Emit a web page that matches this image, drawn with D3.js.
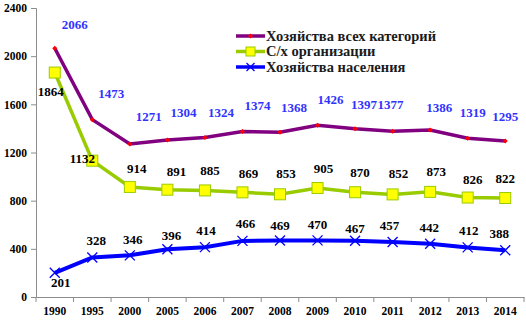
<!DOCTYPE html>
<html>
<head>
<meta charset="utf-8">
<script src="https://cdn.jsdelivr.net/npm/d3@7"></script>
<style>
  body { margin: 0; background: #fff; }
</style>
</head>
<body>
<div id="my_dataviz"></div>
<script>
// data
var years = ["1990","1995","2000","2005","2006","2007","2008","2009","2010","2011","2012","2013","2014"];
var allFarms = [2066,1473,1271,1304,1324,1374,1368,1426,1397,1377,1386,1319,1295];
var agroOrgs = [1864,1132,914,891,885,869,853,905,870,852,873,826,822];
var households = [201,328,346,396,414,466,469,470,467,457,442,412,388];
var yTicks = [0,400,800,1200,1600,2000,2400];
var seriesNames = ["Хозяйства всех категорий", "С/х организации", "Хозяйства населения"];

// label nudges (px)
var allDx = [20,19,19,16,16,15,14,13,9,-2,9,5,0];
var allDy = [-19,-22,-23,-23,-21,-22,-20,-21,-20,-22,-18,-21,-20];
var orgDx = [-4,-10,7,9,5,6,6,6,5,6,6,5,0];
var orgDy = [23,2,-14,-14,-15,-14,-16,-15,-15,-16,-16,-14,-15];
var hhDx = [6,4,3,4,1,3,0,0,0,-3,-1,1,-6];
var hhDy = [14,-13,-11,-9,-12,-13,-11,-11,-8,-12,-12,-12,-12];

var FONT = "'Liberation Serif', 'DejaVu Serif', 'Times New Roman', serif";

var width = 526, height = 336;
var svg = d3.select("#my_dataviz")
  .append("svg")
    .attr("width", width)
    .attr("height", height)
    .attr("font-family", FONT)
    .attr("font-weight", "bold");

var x = d3.scaleBand()
  .domain(years)
  .range([36, 524])
  .padding(0);
var cx = function(d, i) { return x(years[i]) + x.bandwidth() / 2; };

var y = d3.scaleLinear()
  .domain([0, 2400])
  .range([297, 8]);

// Y axis
var yAxis = svg.append("g")
  .attr("transform", "translate(36,0)")
  .call(d3.axisLeft(y).tickValues(yTicks).tickSize(5).tickPadding(4).tickFormat(d3.format("d")));
yAxis.attr("font-family", FONT);
yAxis.select(".domain").attr("stroke", "#8c8c8c");
yAxis.selectAll(".tick line").attr("stroke", "#8c8c8c");
yAxis.selectAll("text").style("font-size", "11.5px").style("font-family", FONT).attr("fill", "#000");

// X axis
var xAxis = svg.append("g")
  .attr("transform", "translate(0,297)")
  .call(d3.axisBottom(x).tickSize(0).tickPadding(10).tickSizeOuter(0));
xAxis.attr("font-family", FONT);
xAxis.select(".domain").attr("stroke", "#8c8c8c");
xAxis.selectAll("text").style("font-size", "11.5px").style("font-family", FONT).attr("fill", "#000");
xAxis.selectAll("line.sep")
  .data(years.concat(["end"]))
  .enter().append("line")
    .attr("class", "sep")
    .attr("x1", function(d, i) { return i < years.length ? x(d) : x.range()[1]; })
    .attr("x2", function(d, i) { return i < years.length ? x(d) : x.range()[1]; })
    .attr("y1", 0).attr("y2", 5)
    .attr("stroke", "#8c8c8c");

var line = d3.line()
  .x(cx)
  .y(function(d) { return y(d); });

// Хозяйства населения
svg.append("path")
  .datum(households)
  .attr("d", line)
  .attr("fill", "none")
  .attr("stroke", "#0000ff")
  .attr("stroke-width", 4);
svg.selectAll("hhMark")
  .data(households)
  .enter().append("path")
    .attr("transform", function(d, i) { return "translate(" + cx(d, i) + "," + y(d) + ")"; })
    .attr("d", "M-5,-5L5,5M-5,5L5,-5")
    .attr("stroke", "#0000ff")
    .attr("stroke-width", 1.3);

// С/х организации
svg.append("path")
  .datum(agroOrgs)
  .attr("d", line)
  .attr("fill", "none")
  .attr("stroke", "#99cc00")
  .attr("stroke-width", 3.5);
svg.selectAll("orgMark")
  .data(agroOrgs)
  .enter().append("rect")
    .attr("x", function(d, i) { return cx(d, i) - 5.5; })
    .attr("y", function(d) { return y(d) - 5.5; })
    .attr("width", 11)
    .attr("height", 11)
    .attr("fill", "#ffff00")
    .attr("stroke", "#99cc00")
    .attr("stroke-width", 1);

// Хозяйства всех категорий
svg.append("path")
  .datum(allFarms)
  .attr("d", line)
  .attr("fill", "none")
  .attr("stroke", "#800080")
  .attr("stroke-width", 3.5);
svg.selectAll("allMark")
  .data(allFarms)
  .enter().append("path")
    .attr("transform", function(d, i) { return "translate(" + cx(d, i) + "," + y(d) + ")"; })
    .attr("d", "M0,-2.5L2.5,0L0,2.5L-2.5,0Z")
    .attr("fill", "#ff0000");

// value labels
function labels(data, dx, dy, color) {
  svg.selectAll("lbl")
    .data(data)
    .enter().append("text")
      .attr("x", function(d, i) { return cx(d, i) + dx[i]; })
      .attr("y", function(d, i) { return y(d) + dy[i]; })
      .attr("text-anchor", "middle")
      .style("font-size", "13px")
      .style("font-family", FONT)
      .attr("fill", color)
      .text(function(d) { return d; });
}
labels(allFarms, allDx, allDy, "#3333ff");
labels(agroOrgs, orgDx, orgDy, "#000");
labels(households, hhDx, hhDy, "#000");

// legend
var legend = svg.append("g").attr("transform", "translate(236,36)");
var colors = ["#800080", "#99cc00", "#0000ff"];
seriesNames.forEach(function(name, i) {
  var g = legend.append("g").attr("transform", "translate(0," + (i * 15.5) + ")");
  g.append("line")
    .attr("x1", 0).attr("x2", 29).attr("y1", 0).attr("y2", 0)
    .attr("stroke", colors[i]).attr("stroke-width", 3.5);
  if (i === 0) {
    g.append("path").attr("transform", "translate(14.5,0)")
      .attr("d", "M0,-2.5L2.5,0L0,2.5L-2.5,0Z").attr("fill", "#ff0000");
  } else if (i === 1) {
    g.append("rect").attr("x", 10).attr("y", -4.5).attr("width", 9).attr("height", 9)
      .attr("fill", "#ffff00").attr("stroke", "#99cc00");
  } else {
    g.append("path").attr("transform", "translate(14.5,0)")
      .attr("d", "M-4,-4L4,4M-4,4L4,-4").attr("stroke", "#0000ff").attr("stroke-width", 1.3);
  }
  g.append("text")
    .attr("x", 30).attr("y", 4.5)
    .style("font-size", "14.5px")
    .style("font-family", FONT)
    .attr("fill", "#1a1a1a")
    .text(name);
});
</script>
</body>
</html>
